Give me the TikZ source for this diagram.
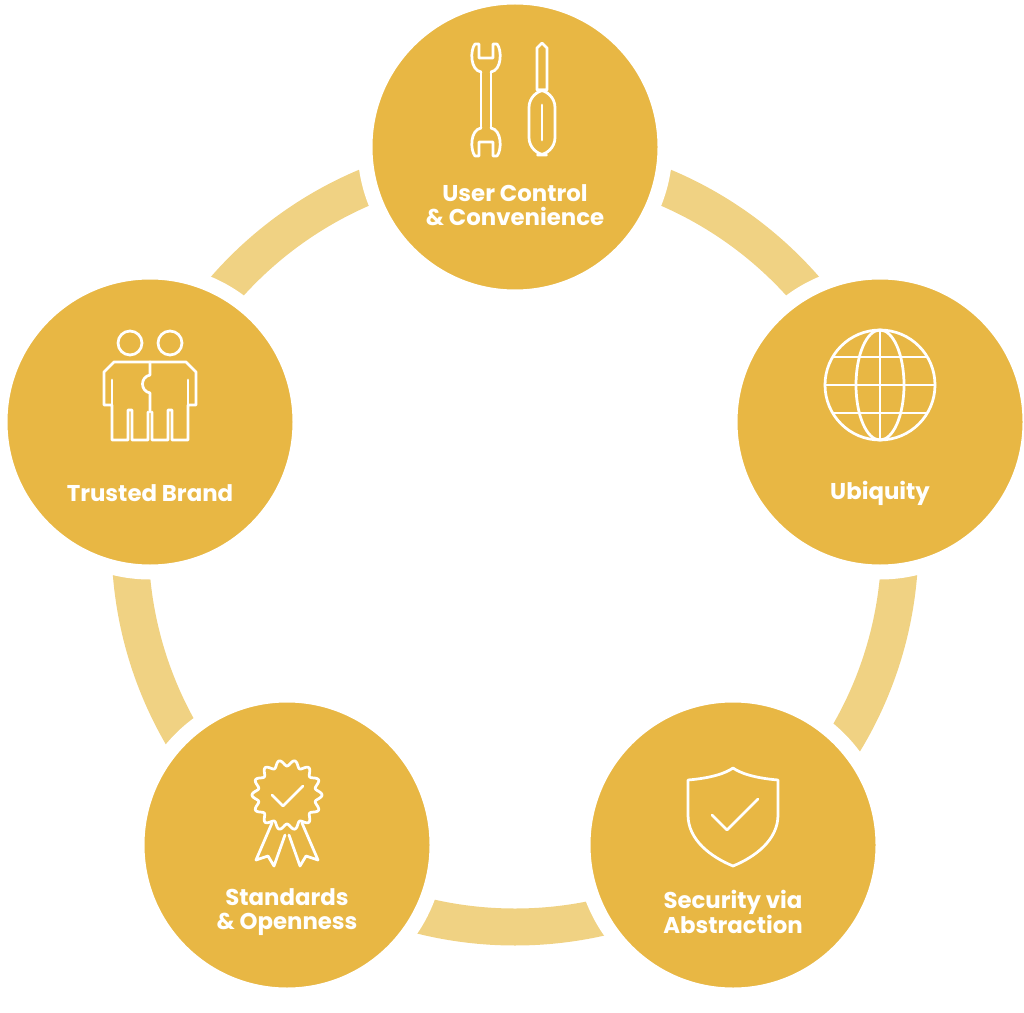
\documentclass[tikz,border=0pt]{standalone}
\usepackage{fontspec}
\setmainfont{Poppins}
\begin{document}
\begin{tikzpicture}[x=0.02cm,y=-0.02cm,
  bub/.style={fill=gold,draw=white,line width=0.3cm},
  lab/.style={text=white,font=\fontsize{13}{16}\selectfont\bfseries,align=center},
  ico/.style={draw=white,line width=0.055cm,line join=round,line cap=round}]
\definecolor{gold}{HTML}{E8B744}
\definecolor{ring}{HTML}{F0D283}
\useasboundingbox (0,0) rectangle (1024,1013);
\coordinate (c) at (515,542);
\draw[ring,line width=0.74cm] (c) circle (385);
\path[bub] (515,147) circle (150);
\path[bub] (880,422) circle (150);
\path[bub] (733,845) circle (150);
\path[bub] (287,845) circle (150);
\path[bub] (150,422) circle (150);
\node[lab] (t1) at (515,205) {User Control\\[-2pt]\& Convenience};
\node[lab] (t2) at (880,493) {Ubiquity};
\node[lab] (t3) at (733,912) {Security via\\[-2pt]Abstraction};
\node[lab] (t4) at (287,912) {Standards\\[-2pt]\& Openness};
\node[lab] (t5) at (150,493) {Trusted Brand};
% tools
\draw[ico] (481,72) -- (481,128) (491,72) -- (491,128);
\draw[ico] (481,72) .. controls (470,70) and (470,50) .. (475,44) -- (479,44) -- (479,58) -- (493,58) -- (493,44) -- (497,44) .. controls (502,50) and (502,70) .. (491,72);
\draw[ico] (481,128) .. controls (470,130) and (470,150) .. (475,156) -- (479,156) -- (479,142) -- (493,142) -- (493,156) -- (497,156) .. controls (502,150) and (502,130) .. (491,128);
\draw[ico] (537,48) -- (537,90) -- (547,90) -- (547,48) -- (542,43) -- cycle;
\draw[ico,rounded corners=10] (529,90) rectangle (555,155);
\draw[ico] (542,105) -- (542,140);
% globe
\draw[ico] (880,385) circle (55);
\draw[ico] (880,385) ellipse (24 and 55);
\draw[ico] (880,330) -- (880,440) (825,385) -- (935,385);
\draw[ico] (833,357) -- (927,357) (833,413) -- (927,413);
% shield
\draw[ico] (688,780) .. controls (712,778) and (726,773) .. (733,768) .. controls (740,773) and (754,778) .. (778,780) -- (778,815) .. controls (778,840) and (755,857) .. (733,866) .. controls (711,857) and (688,840) .. (688,815) -- cycle;
\draw[ico] (712,815) -- (727,830) -- (758,799);
% rosette
\draw[ico] plot[domain=0:360,samples=200,smooth] ({287+(32+3*cos(14*\x))*cos(\x)},{795+(32+3*cos(14*\x))*sin(\x)});
\draw[ico] (272,795) -- (283,806) -- (303,786);
\draw[ico] (272,823) -- (256,860) -- (268,856) -- (274,866) -- (285,835);
\draw[ico] (302,823) -- (318,860) -- (306,856) -- (300,866) -- (289,835);
% people
\draw[ico] (130,343) circle (12) (170,343) circle (12);
\draw[ico] (150,362) -- (114,362) -- (104,372) -- (104,405) -- (112,405) -- (112,440) -- (128,440) -- (128,410) -- (132,410) -- (132,440) -- (148,440) -- (148,412);
\draw[ico] (150,362) -- (186,362) -- (196,372) -- (196,405) -- (188,405) -- (188,440) -- (172,440) -- (172,410) -- (168,410) -- (168,440) -- (152,440) -- (152,412);
\draw[ico] (112,380) -- (112,405) (188,380) -- (188,405);
\draw[ico] (150,362) -- (150,375) .. controls (140,377) and (140,391) .. (150,393) -- (150,412);
\end{tikzpicture}
\end{document}
